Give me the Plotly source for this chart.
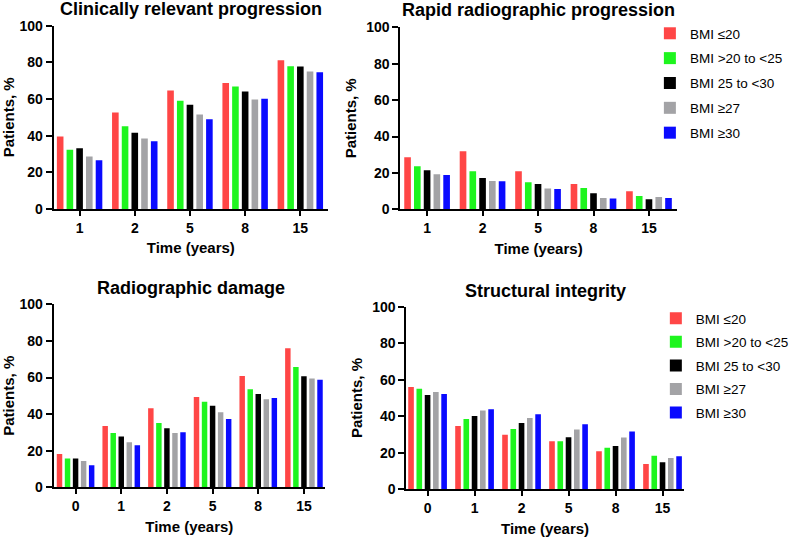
import plotly.graph_objects as go

W, H = 794, 539

series_names = ["BMI ≤20", "BMI >20 to <25", "BMI 25 to <30", "BMI ≥27", "BMI ≥30"]
series_colors = ["#FF4646", "#1EF51E", "#000000", "#A3A3A6", "#0A0AFF"]

years_a = ["1", "2", "5", "8", "15"]
years_b = ["0", "1", "2", "5", "8", "15"]

# Clinically relevant progression
clin_le20 = [39.6, 52.7, 64.6, 68.8, 81.2]
clin_20_25 = [32.3, 45.1, 59.1, 66.8, 77.9]
clin_25_30 = [33.2, 41.6, 56.9, 64.1, 77.7]
clin_ge27 = [28.7, 38.5, 51.6, 59.7, 75.0]
clin_ge30 = [26.6, 36.9, 48.9, 60.2, 74.6]

# Rapid radiographic progression
rapid_le20 = [28.6, 31.9, 20.9, 13.9, 9.9]
rapid_20_25 = [23.6, 20.9, 14.8, 11.7, 7.3]
rapid_25_30 = [21.4, 17.2, 13.9, 8.8, 5.5]
rapid_ge27 = [19.2, 15.6, 11.4, 6.2, 6.8]
rapid_ge30 = [18.9, 15.4, 11.2, 6.0, 6.2]

# Radiographic damage
damage_le20 = [18.2, 33.5, 43.2, 49.4, 60.8, 76.0]
damage_20_25 = [15.8, 29.7, 35.2, 46.8, 53.6, 65.8]
damage_25_30 = [15.7, 27.7, 32.2, 44.6, 51.0, 60.7]
damage_ge27 = [14.4, 24.6, 29.7, 41.0, 48.1, 59.4]
damage_ge30 = [12.0, 23.0, 30.1, 37.3, 48.8, 58.8]

# Structural integrity
struct_le20 = [56.0, 34.7, 29.9, 26.3, 20.8, 13.9]
struct_20_25 = [55.1, 38.5, 33.0, 26.3, 22.8, 18.4]
struct_25_30 = [51.6, 40.1, 36.3, 28.5, 23.7, 14.8]
struct_ge27 = [53.3, 43.2, 39.1, 32.8, 28.3, 17.2]
struct_ge30 = [52.2, 43.8, 41.1, 35.6, 31.6, 18.1]

panel_titles = ["Clinically relevant progression", "Rapid radiographic progression",
                "Radiographic damage", "Structural integrity"]

panels = [
    (years_a, [clin_le20, clin_20_25, clin_25_30, clin_ge27, clin_ge30]),
    (years_a, [rapid_le20, rapid_20_25, rapid_25_30, rapid_ge27, rapid_ge30]),
    (years_b, [damage_le20, damage_20_25, damage_25_30, damage_ge27, damage_ge30]),
    (years_b, [struct_le20, struct_20_25, struct_25_30, struct_ge27, struct_ge30]),
]

# pixel layout of each plot area: (left, right, top, bottom)
boxes = [(54, 330, 25.7, 209.0), (403, 681, 27.3, 209.3),
         (54, 327, 304.3, 487.3), (409, 688, 306.7, 489.3)]
xranges = [[-0.47, 4.5], [-0.48, 4.5], [-0.48, 5.46], [-0.45, 5.45]]
title_pos = [(192, 9), (542, 9.5), (192, 287.5), (548.5, 290.5)]

FONT = "Liberation Sans, Arial, sans-serif"

fig = go.Figure()
for p, (cats, vals) in enumerate(panels):
    xa = "x" if p == 0 else f"x{p+1}"
    ya = "y" if p == 0 else f"y{p+1}"
    for s, v in enumerate(vals):
        legend = "legend2" if p == 3 else "legend"
        show = p in (1, 3)
        fig.add_trace(go.Bar(
            x=cats, y=v, name=series_names[s], marker_color=series_colors[s],
            marker_line_width=0, xaxis=xa, yaxis=ya, showlegend=show,
            legend=legend, legendgroup=f"p{p}s{s}",
        ))

axis_common = dict(showline=True, linecolor="black", linewidth=2, ticks="outside",
                   tickcolor="black", tickwidth=2, showgrid=False, zeroline=False,
                   automargin=False,
                   tickfont=dict(family=FONT, size=14, color="black", weight="bold"))
title_font = dict(family=FONT, size=15, color="black", weight="bold")

layout = dict(template="none", width=W, height=H, margin=dict(l=0, r=0, t=0, b=0),
              paper_bgcolor="white", plot_bgcolor="white",
              barmode="group", bargap=0.12, bargroupgap=0.32,
              annotations=[])
for p, (l, r, t, b) in enumerate(boxes):
    sx = "" if p == 0 else str(p + 1)
    layout[f"xaxis{sx}"] = dict(axis_common, domain=[l / W, r / W], anchor=f"y{sx}",
                                type="category", range=xranges[p], ticklen=5,
                                title=dict(text="Time (years)", font=title_font, standoff=8))
    layout[f"yaxis{sx}"] = dict(axis_common, domain=[1 - b / H, 1 - t / H], anchor=f"x{sx}",
                                range=[0, 100], dtick=20, ticklen=6,
                                title=dict(text="Patients, %", font=title_font, standoff=6))
    cx, cy = title_pos[p]
    layout["annotations"].append(dict(
        text=panel_titles[p], x=cx / W, y=1 - cy / H, xref="paper", yref="paper",
        xanchor="center", yanchor="middle", showarrow=False,
        font=dict(family=FONT, size=18, color="black", weight="bold")))

leg_font = dict(family=FONT, size=13.5, color="black")
layout["legend"] = dict(x=654 / W, y=1 - 18 / H, xanchor="left", yanchor="top",
                        font=leg_font, traceorder="grouped", tracegroupgap=4.3,
                        bgcolor="rgba(0,0,0,0)", borderwidth=0)
layout["legend2"] = dict(x=660 / W, y=1 - 303 / H, xanchor="left", yanchor="top",
                         font=leg_font, traceorder="grouped", tracegroupgap=3.0,
                         bgcolor="rgba(0,0,0,0)", borderwidth=0)
fig.update_layout(**layout)

fig.write_html("out.html", config={"displayModeBar": False},
               post_script="document.body.style.margin='0';document.body.style.overflow='hidden';")
